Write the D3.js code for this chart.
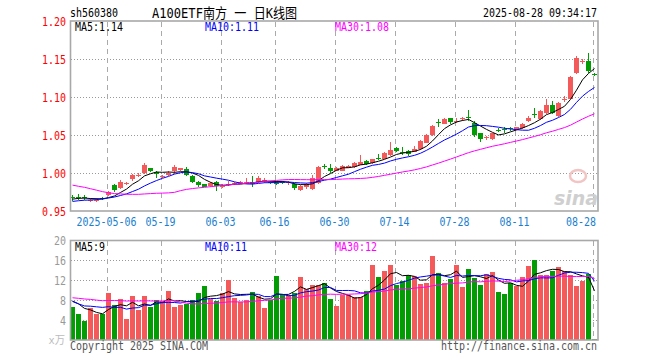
<!DOCTYPE html>
<html>
<head>
<meta charset="utf-8">
<script src="https://cdn.jsdelivr.net/npm/d3@7"></script>
<style>
body { margin: 0; background: #fff; }
text { font-family: "DejaVu Sans Mono", "Noto Sans CJK SC", monospace; font-size: 12px; }
</style>
</head>
<body>
<svg id="chart" width="660" height="360"></svg>
<script>
// trading days shown (MM-DD), 2025-04-23 .. 2025-08-28
const dates = [
    "04-23","04-24","04-25","04-28","04-29","04-30",
    "05-06","05-07","05-08","05-09","05-12","05-13","05-14","05-15","05-16",
    "05-19","05-20","05-21","05-22","05-23","05-26","05-27","05-28","05-29","05-30",
    "06-03","06-04","06-05","06-06","06-09","06-10","06-11","06-12","06-13",
    "06-16","06-17","06-18","06-19","06-20","06-23","06-24","06-25","06-26","06-27","06-30",
    "07-01","07-02","07-03","07-04","07-07","07-08","07-09","07-10","07-11",
    "07-14","07-15","07-16","07-17","07-18","07-21","07-22","07-23","07-24","07-25",
    "07-28","07-29","07-30","07-31","08-01","08-04","08-05","08-06","08-07","08-08",
    "08-11","08-12","08-13","08-14","08-15","08-18","08-19","08-20","08-21","08-22",
    "08-25","08-26","08-27","08-28"
];

// closes before the first visible day, only needed for the moving averages
const prevCloses = [
    1.012,1.008,1.020,1.022,1.025,1.018,1.012,1.000,1.002,1.000,0.998,0.995,0.988,0.985,0.990,0.992,0.985,
    0.940,0.948,0.955,
    0.958,0.960,0.962,0.960,0.958,
    0.962,0.965,0.968,0.966
];

const opens = [
    0.968,0.968,0.968,0.964,0.964,0.967,0.971,0.984,0.980,0.985,
    0.992,0.997,1.000,1.006,1.001,0.995,0.9975,1.003,1.004,1.005,
    0.996,0.988,0.985,0.983,0.988,0.982,0.984,0.985,0.986,0.986,
    0.988,0.988,0.988,0.988,0.987,0.988,0.987,0.986,0.977,0.981,
    0.979,0.987,1.009,1.006,1.003,1.003,1.007,1.008,1.011,1.016,
    1.013,1.020,1.019,1.024,1.033,1.028,1.029,1.028,1.031,1.040,
    1.050,1.067,1.065,1.072,1.068,1.071,1.074,1.066,1.052,1.046,
    1.045,1.057,1.058,1.059,1.057,1.059,1.068,1.077,1.071,1.079,
    1.090,1.075,1.096,1.098,1.131,1.146,1.148,1.130
];
const highs = [
    0.971,0.972,0.971,0.967,0.967,0.969,0.976,0.985,0.991,0.988,
    0.999,0.9995,1.013,1.007,1.002,0.998,1.002,1.0105,1.007,1.008,
    0.997,0.989,0.986,0.988,0.989,0.985,0.989,0.988,0.990,0.993,
    0.996,0.996,0.993,0.990,0.989,0.990,0.990,0.987,0.984,0.987,
    0.998,1.009,1.012,1.012,1.008,1.010,1.010,1.014,1.024,1.017,
    1.019,1.025,1.027,1.041,1.034,1.034,1.030,1.035,1.044,1.051,
    1.063,1.071,1.072,1.073,1.072,1.074,1.083,1.068,1.053,1.049,
    1.053,1.059,1.061,1.061,1.061,1.066,1.075,1.086,1.083,1.098,
    1.095,1.093,1.101,1.128,1.154,1.150,1.158,1.131
];
const lows = [
    0.963,0.965,0.965,0.962,0.962,0.964,0.970,0.975,0.979,0.984,
    0.990,0.995,0.999,1.001,0.994,0.993,0.996,0.9985,1.002,0.996,
    0.9865,0.982,0.981,0.982,0.976,0.980,0.983,0.984,0.985,0.985,
    0.981,0.987,0.987,0.986,0.984,0.985,0.984,0.978,0.976,0.979,
    0.978,0.986,1.005,1.000,1.002,1.002,1.006,1.007,1.010,1.010,
    1.012,1.017,1.018,1.023,1.028,1.024,1.023,1.027,1.030,1.039,
    1.049,1.061,1.064,1.064,1.066,1.068,1.068,1.048,1.041,1.044,
    1.044,1.054,1.052,1.055,1.056,1.058,1.067,1.073,1.070,1.078,
    1.077,1.074,1.093,1.097,1.130,1.143,1.132,1.128
];
const closes = [
    0.967,0.967,0.967,0.965,0.965,0.966,0.975,0.978,0.988,0.987,
    0.998,0.998,1.010,1.002,0.9985,0.996,1.000,1.008,1.006,0.998,
    0.988,0.984,0.982,0.987,0.983,0.983,0.986,0.987,0.988,0.988,
    0.986,0.993,0.991,0.9875,0.986,0.987,0.988,0.980,0.983,0.985,
    0.993,1.008,1.008,1.002,1.007,1.009,1.009,1.0135,1.015,1.012,
    1.018,1.019,1.026,1.030,1.029,1.027,1.0245,1.032,1.0425,1.050,
    1.062,1.066,1.0715,1.067,1.069,1.072,1.073,1.050,1.045,1.047,
    1.0525,1.056,1.057,1.058,1.060,1.065,1.072,1.076,1.081,1.090,
    1.079,1.092,1.097,1.126,1.151,1.147,1.134,1.129
];

// volume, unit 万
const prevVolumes = [
    8.5,8,9,9.5,9,8,7.5,8,7.5,7,7.5,7,8,8.5,7.5,7,8,
    15,14,12,
    10,8,7,6.5,6.5,
    8,8.5,8,7.8
];
const volumes = [
    6.7,5.2,3.9,6.5,5.3,5.3,9.5,7.0,8.2,4.2,
    8.8,6.0,8.8,6.7,8.0,7.8,9.8,6.7,7.0,7.2,
    8.0,9.5,10.8,8.3,7.8,9.5,12.0,8.5,7.7,8.0,
    9.7,8.9,6.5,8.1,12.8,9.2,9.0,9.5,12.6,10.3,
    11.0,11.0,11.5,8.2,6.8,9.1,9.1,8.7,8.7,9.8,
    15.0,12.6,13.9,15.0,11.0,11.8,13.0,12.8,11.2,11.4,
    16.9,13.4,11.4,12.2,15.0,10.6,14.2,12.4,11.0,13.3,
    13.6,9.6,9.2,11.5,10.8,12.6,14.8,16.0,13.0,13.0,
    13.9,14.6,13.8,13.0,10.8,11.9,13.3,0.2
];

const priceTicks = [0.95, 1.00, 1.05, 1.10, 1.15, 1.20];
const volTicks = [4, 8, 12, 16, 20];
const tickDates = ["05-06","05-19","06-03","06-16","06-30","07-14","07-28","08-11","08-28"];
const tickLabels = ["2025-05-06","05-19","06-03","06-16","06-30","07-14","07-28","08-11","08-28"];

const red = "#f55a5a", green = "#049c04";
const maColors = ["#000", "#0000ff", "#ff00ff"];

const svg = d3.select("#chart");

// each half-width char is 6px wide, CJK 12px, like the bitmap font
function addText(x, y, s, color, anchor, charW, size) {
    charW = charW || 6;
    let n = 0;
    for (const ch of s) n += ch.charCodeAt(0) > 255 ? 2 : 1;
    const t = svg.append("text")
        .attr("x", x).attr("y", y)
        .attr("fill", color)
        .attr("textLength", n * charW)
        .attr("lengthAdjust", "spacingAndGlyphs")
        .text(s);
    if (anchor) t.attr("text-anchor", anchor);
    if (size) t.style("font-size", size + "px");
    return t;
}

function movingAvg(prev, vals, n) {
    const all = prev.concat(vals);
    return vals.map((v, i) => d3.mean(all.slice(prev.length + i - n + 1, prev.length + i + 1)));
}

const left = 70.5, right = 598;
const x = d3.scaleLinear().domain([0, dates.length - 1]).range([72.5, 594.5]);
const y = d3.scaleLinear().domain([0.95, 1.20]).range([211, 21]);
const yv = d3.scaleLinear().domain([0, 20]).range([340, 240]);

const up = i => closes[i] >= opens[i];

// header
addText(70, 17, "sh560380", "#000");
addText(152, 18, "A100ETF南方 一 日K线图", "#000", null, 6.6, 14);
addText(597, 17, "2025-08-28 09:34:17", "#000", "end");

// grid
const grid = svg.append("g").attr("shape-rendering", "crispEdges");
grid.selectAll(".hp").data(priceTicks.slice(1, -1)).join("line")
    .attr("x1", left).attr("x2", right)
    .attr("y1", d => Math.round(y(d)) + 0.5).attr("y2", d => Math.round(y(d)) + 0.5)
    .attr("stroke", "#999").attr("stroke-dasharray", "1,2");
grid.selectAll(".hv").data(volTicks.slice(0, -1)).join("line")
    .attr("x1", left).attr("x2", right)
    .attr("y1", d => Math.round(yv(d)) + 0.5).attr("y2", d => Math.round(yv(d)) + 0.5)
    .attr("stroke", "#999").attr("stroke-dasharray", "1,2");
tickDates.forEach(d => {
    const gx = Math.round(x(dates.indexOf(d)) - 2) + 0.5;
    grid.append("line").attr("x1", gx).attr("x2", gx).attr("y1", 22).attr("y2", 211)
        .attr("stroke", "#aaa").attr("stroke-dasharray", "5,4");
    grid.append("line").attr("x1", gx).attr("x2", gx).attr("y1", 241).attr("y2", 340)
        .attr("stroke", "#aaa").attr("stroke-dasharray", "5,4");
});

// watermark
svg.append("ellipse").attr("cx", 578).attr("cy", 176).attr("rx", 8).attr("ry", 6)
    .attr("fill", "none").attr("stroke", "#f2c4c4").attr("stroke-width", 2.5);
svg.append("text").attr("x", 554).attr("y", 205).attr("fill", "#cfcfcf")
    .style("font-family", "DejaVu Sans").style("font-size", "19px")
    .style("font-weight", "bold").style("font-style", "italic").text("sina");

// candles
const candles = svg.append("g").attr("shape-rendering", "crispEdges");
candles.selectAll("line").data(dates).join("line")
    .attr("x1", (d, i) => x(i)).attr("x2", (d, i) => x(i))
    .attr("y1", (d, i) => y(highs[i])).attr("y2", (d, i) => y(lows[i]))
    .attr("stroke", (d, i) => up(i) ? red : green);
candles.selectAll("rect").data(dates).join("rect")
    .attr("x", (d, i) => x(i) - 2.5)
    .attr("width", 5)
    .attr("y", (d, i) => y(Math.max(opens[i], closes[i])))
    .attr("height", (d, i) => Math.max(1, Math.abs(y(opens[i]) - y(closes[i]))))
    .attr("fill", (d, i) => up(i) ? red : green);

// price moving averages
const priceMA = [5, 10, 30].map(n => movingAvg(prevCloses, closes, n));
const pline = d3.line().x((d, i) => x(i)).y(d => y(d));
priceMA.forEach((ma, k) => {
    svg.append("path").attr("d", pline(ma)).attr("fill", "none")
        .attr("stroke", maColors[k]).attr("stroke-width", 1);
});

// volume bars
const vbars = svg.append("g").attr("shape-rendering", "crispEdges");
vbars.selectAll("rect").data(volumes).join("rect")
    .attr("x", (d, i) => x(i) - 2.5)
    .attr("width", 5)
    .attr("y", d => yv(d))
    .attr("height", d => yv(0) - yv(d))
    .attr("fill", (d, i) => up(i) ? red : green);

const volMA = [5, 10, 30].map(n => movingAvg(prevVolumes, volumes, n));
const vline = d3.line().x((d, i) => x(i)).y(d => yv(d));
volMA.forEach((ma, k) => {
    svg.append("path").attr("d", vline(ma)).attr("fill", "none")
        .attr("stroke", maColors[k]).attr("stroke-width", 1);
});

// frames
svg.append("rect").attr("x", left).attr("y", 21).attr("width", right - left).attr("height", 190)
    .attr("fill", "none").attr("stroke", "#a8a8a8").attr("stroke-width", 1.6);
svg.append("rect").attr("x", left).attr("y", 240.5).attr("width", right - left).attr("height", 99.5)
    .attr("fill", "none").attr("stroke", "#a8a8a8").attr("stroke-width", 1.6);

// axis labels
priceTicks.forEach(v => addText(66, y(v) + 4.5, v.toFixed(2), "#f00", "end"));
volTicks.forEach(v => addText(66, yv(v) + 4.5, String(v), "#999", "end"));
addText(65, 344, "x万", "#bbb", "end", 5.5, 11);
tickDates.forEach((d, k) => {
    const s = tickLabels[k];
    let cx = x(dates.indexOf(d)) - 2;
    const half = s.length * 3;
    if (cx + half > 596) cx = 596 - half;
    addText(cx, 226, s, "#1a7fd0", "middle");
});

// legends
const last = dates.length - 1;
const names = ["MA5", "MA10", "MA30"], legX = [75, 205, 335];
priceMA.forEach((ma, k) => addText(legX[k], 31, names[k] + ":" + ma[last].toFixed(2), maColors[k]));
volMA.forEach((ma, k) => addText(legX[k], 251, names[k] + ":" + Math.floor(volMA[k][last]), maColors[k]));

// footer
addText(70, 350, "Copyright 2025 SINA.COM", "#555");
addText(597, 350, "http://finance.sina.com.cn", "#555", "end");
</script>
</body>
</html>
